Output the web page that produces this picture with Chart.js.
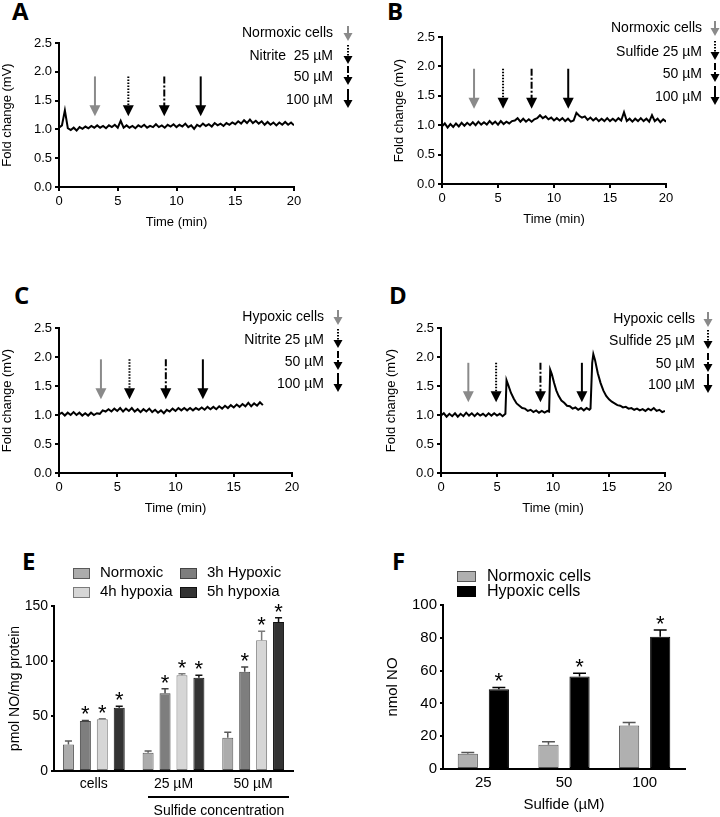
<!DOCTYPE html>
<html>
<head>
<meta charset="utf-8">
<script src="https://cdn.jsdelivr.net/npm/chart.js@4/dist/chart.umd.min.js"></script>
<style>
  body { margin: 0; background: #fff; width: 720px; height: 817px; position: relative; overflow: hidden; }
  canvas { position: absolute; }
  .letter { position: absolute; font-family: "Open Sans", sans-serif; font-weight: 700; font-size: 24px; line-height: 1; color: #000; }
</style>
</head>
<body>
<div class="letter" style="left:12px;top:-1px">A</div>
<div class="letter" style="left:387px;top:-1px">B</div>
<div class="letter" style="left:14px;top:283px">C</div>
<div class="letter" style="left:389px;top:283px">D</div>
<div class="letter" style="left:22px;top:549px">E</div>
<div class="letter" style="left:392px;top:549px">F</div>

<canvas id="chartA" width="360" height="250" style="left:0;top:0"></canvas>
<canvas id="chartB" width="360" height="250" style="left:360px;top:0"></canvas>
<canvas id="chartC" width="360" height="250" style="left:0;top:285px"></canvas>
<canvas id="chartD" width="360" height="250" style="left:360px;top:285px"></canvas>
<canvas id="chartE" width="360" height="277" style="left:0;top:540px"></canvas>
<canvas id="chartF" width="360" height="277" style="left:360px;top:540px"></canvas>

<script>
// ---------------- dati ----------------
// tempi di campionamento (min) per le tracce A, B, C
const sampleTimes = [0,0.25,0.5,0.75,1,1.25,1.5,1.75,2,2.25,2.5,2.75,3,3.25,3.5,3.75,4,4.25,4.5,4.75,5,5.25,5.5,5.75,6,6.25,6.5,6.75,7,7.25,7.5,7.75,8,8.25,8.5,8.75,9,9.25,9.5,9.75,10,10.25,10.5,10.75,11,11.25,11.5,11.75,12,12.25,12.5,12.75,13,13.25,13.5,13.75,14,14.25,14.5,14.75,15,15.25,15.5,15.75,16,16.25,16.5,16.75,17,17.25,17.5,17.75,18,18.25,18.5,18.75,19,19.25,19.5,19.75,20];

const foldA = [1.03,1.07,1.33,1.02,0.99,1.03,0.98,1.04,1.01,1.05,1.02,1.06,1.03,1.07,1.03,1.06,1.02,1.07,1.04,1.08,1.03,1.15,1.03,1.07,1.03,1.06,1.02,1.07,1.04,1.08,1.03,1.06,1.04,1.09,1.04,1.07,1.03,1.08,1.05,1.09,1.04,1.08,1.05,1.10,1.04,1.07,1.01,1.08,1.05,1.10,1.06,1.09,1.05,1.11,1.07,1.10,1.06,1.11,1.08,1.12,1.09,1.14,1.10,1.16,1.11,1.17,1.11,1.15,1.10,1.14,1.08,1.13,1.08,1.12,1.07,1.12,1.08,1.13,1.08,1.12,1.07];

const foldB = [0.98,1.03,0.96,1.02,0.97,1.03,0.98,1.04,0.99,1.04,1.00,1.05,1.00,1.06,1.01,1.05,1.01,1.07,1.02,1.06,1.01,1.07,1.02,1.06,1.03,1.07,1.08,1.12,1.06,1.11,1.06,1.10,1.06,1.10,1.12,1.17,1.12,1.15,1.10,1.13,1.08,1.12,1.08,1.12,1.07,1.11,1.06,1.08,1.21,1.16,1.13,1.15,1.09,1.13,1.08,1.12,1.07,1.11,1.07,1.12,1.07,1.11,1.07,1.12,1.08,1.22,1.07,1.11,1.06,1.11,1.07,1.12,1.07,1.11,1.06,1.17,1.07,1.11,1.05,1.10,1.06];

const foldC = [1.01,1.04,0.99,1.04,1.00,1.05,1.00,1.04,0.99,1.03,0.99,1.04,1.00,1.03,1.02,1.08,1.06,1.10,1.06,1.11,1.07,1.12,1.06,1.11,1.07,1.12,1.06,1.10,1.05,1.10,1.06,1.11,1.05,1.09,1.04,1.08,1.03,1.09,1.06,1.11,1.07,1.12,1.08,1.12,1.08,1.12,1.08,1.12,1.09,1.13,1.09,1.14,1.10,1.14,1.10,1.15,1.11,1.16,1.12,1.17,1.13,1.18,1.14,1.19,1.15,1.21,1.15,1.20,1.16,1.22,1.17];

const timeD = [0,0.25,0.5,0.75,1,1.25,1.5,1.75,2,2.25,2.5,2.75,3,3.25,3.5,3.75,4,4.25,4.5,4.75,5,5.25,5.5,5.75,5.85,6,6.25,6.5,6.75,7,7.25,7.5,7.75,8,8.25,8.5,8.75,9,9.25,9.5,9.65,9.75,9.9,10.1,10.3,10.5,10.75,11,11.25,11.5,11.75,12,12.25,12.5,12.75,13,13.25,13.35,13.5,13.6,13.75,14,14.25,14.5,14.75,15,15.25,15.5,15.75,16,16.25,16.5,16.75,17,17.25,17.5,17.75,18,18.25,18.5,18.75,19,19.25,19.5,19.75,20];
const foldD = [0.99,1.03,0.97,1.02,0.98,1.03,0.97,1.02,0.98,1.04,0.99,1.03,0.98,1.03,0.99,1.02,0.98,1.03,0.99,1.03,0.99,1.02,0.98,1.02,1.60,1.52,1.38,1.28,1.20,1.16,1.12,1.11,1.07,1.09,1.05,1.08,1.04,1.07,1.04,1.07,1.06,1.78,1.70,1.55,1.42,1.33,1.25,1.21,1.16,1.15,1.11,1.13,1.09,1.12,1.08,1.12,1.09,1.11,1.90,2.05,1.95,1.72,1.55,1.42,1.33,1.27,1.23,1.20,1.17,1.16,1.13,1.14,1.11,1.12,1.09,1.11,1.08,1.10,1.07,1.11,1.08,1.12,1.07,1.09,1.05,1.07];

// frecce di aggiunta (tempo in min) e stile
const arrowStyles = ["gray", "dotted", "dashdot", "solid"];
const arrowTimesA = [3.06, 5.9, 8.96, 12.06];
const arrowTimesB = [2.86, 5.45, 8.0, 11.27];
const arrowTimesC = [3.6, 6.05, 9.17, 12.35];
const arrowTimesD = [2.44, 4.92, 8.88, 12.58];

const legendA = ["Normoxic cells", "Nitrite  25 \u00b5M", "50 \u00b5M", "100 \u00b5M"];
const legendB = ["Normoxic cells", "Sulfide 25 \u00b5M", "50 \u00b5M", "100 \u00b5M"];
const legendC = ["Hypoxic cells", "Nitrite 25 \u00b5M", "50 \u00b5M", "100 \u00b5M"];
const legendD = ["Hypoxic cells", "Sulfide 25 \u00b5M", "50 \u00b5M", "100 \u00b5M"];

// pannello E
const eCategories = ["cells", "25 \u00b5M", "50 \u00b5M"];
const eLabels = ["Normoxic", "3h Hypoxic", "4h hypoxia", "5h hypoxia"];
const eNormoxic = [24, 16.7, 30.3];
const eNormoxicErr = [3.3, 1.5, 4.9];
const e3h = [45.5, 70.6, 90.3];
const e3hErr = [0.5, 4.2, 4.2];
const e4h = [47, 87, 118.8];
const e4hErr = [0.5, 1.5, 8.2];
const e5h = [57.6, 84.8, 135.5];
const e5hErr = [1.2, 2.2, 3.9];

// pannello F
const fCategories = ["25", "50", "100"];
const fLabels = ["Normoxic cells", "Hypoxic cells"];
const fNormoxic = [9.3, 14.8, 26.6];
const fNormoxicErr = [0.8, 1.8, 1.8];
const fHypoxic = [48.7, 56.4, 80.7];
const fHypoxicErr = [1.0, 2.0, 4.1];

// ---------------- utilità ----------------
const FONT = '"Liberation Sans", Arial, sans-serif';
Chart.defaults.font.family = FONT;
Chart.defaults.color = "#000";

const drawArrow = function (ctx, x, yTop, yTip, style, headW, headH, lw) {
    const color = style === "gray" ? "#8a8a8a" : "#000";
    ctx.save();
    ctx.strokeStyle = color;
    ctx.fillStyle = color;
    ctx.lineWidth = lw;
    if (style === "dotted") ctx.setLineDash([1.5, 1.5]);
    else if (style === "dashdot") ctx.setLineDash([7, 2, 2, 2]);
    else ctx.setLineDash([]);
    ctx.beginPath();
    ctx.moveTo(x, yTop);
    ctx.lineTo(x, yTip - headH + 1);
    ctx.stroke();
    ctx.setLineDash([]);
    ctx.beginPath();
    ctx.moveTo(x - headW / 2, yTip - headH);
    ctx.lineTo(x + headW / 2, yTip - headH);
    ctx.lineTo(x, yTip);
    ctx.closePath();
    ctx.fill();
    ctx.restore();
};

// ---------------- tracce A-D ----------------
const makeTrace = function (id, times, values, arrowTimes, arrowTop, arrowTip, legend, o) {
    const points = values.map((v, i) => ({ x: times[i], y: v }));
    const canvas = document.getElementById(id);

    const arrowPlugin = {
        id: "arrows" + id,
        afterDatasetsDraw(chart) {
            const ctx = chart.ctx;
            const xs = chart.scales.x, ys = chart.scales.y;
            arrowTimes.forEach((t, i) => {
                drawArrow(ctx, xs.getPixelForValue(t), ys.getPixelForValue(arrowTop),
                    ys.getPixelForValue(arrowTip), arrowStyles[i], 11, 11, 2);
            });
            // legenda a destra
            ctx.save();
            ctx.font = "14px " + FONT;
            ctx.fillStyle = "#000";
            ctx.textAlign = "right";
            ctx.textBaseline = "middle";
            legend.forEach((txt, i) => {
                const y = o.legRows[i];
                ctx.fillText(txt, o.legRight, y);
                const top = i === 0 ? y - 7 : y - 11;
                drawArrow(ctx, o.legArrow, top, y + 8, arrowStyles[i], 9, 8, 2);
            });
            ctx.restore();
        }
    };

    new Chart(canvas, {
        type: "line",
        data: {
            datasets: [{
                data: points,
                borderColor: "#000",
                borderWidth: 2,
                pointRadius: 0,
                tension: 0,
            }],
        },
        options: {
            responsive: false,
            animation: false,
            layout: { padding: { left: 0, top: o.top, right: o.right, bottom: o.bottom } },
            plugins: { legend: { display: false }, tooltip: { enabled: false } },
            scales: {
                x: {
                    type: "linear", min: 0, max: 20,
                    ticks: { stepSize: 5, font: { size: 13 }, padding: 3, maxRotation: 0 },
                    grid: { drawOnChartArea: false, color: "#000", tickLength: 4, lineWidth: 2 },
                    border: { color: "#000", width: 2 },
                    title: { display: true, text: "Time (min)", font: { size: 13 }, padding: 0 },
                    afterFit: s => { s.height = o.xHeight; },
                },
                y: {
                    min: 0, max: 2.5,
                    ticks: { stepSize: 0.5, font: { size: 13 }, padding: 3, callback: v => Number(v).toFixed(1) },
                    grid: { drawOnChartArea: false, color: "#000", tickLength: 4, lineWidth: 2 },
                    border: { color: "#000", width: 2 },
                    title: { display: true, text: "Fold change (mV)", font: { size: 13 }, padding: { top: o.yTitlePad, bottom: 0 } },
                    afterFit: s => { s.width = o.yWidth; },
                },
            },
        },
        plugins: [arrowPlugin],
    });
};

makeTrace("chartA", sampleTimes, foldA, arrowTimesA, 1.92, 1.23, legendA,
    { top: 43, right: 66, bottom: 20, xHeight: 43, yWidth: 59, yTitlePad: 0,
      legRows: [33, 56, 77, 100], legRight: 333, legArrow: 348 });
makeTrace("chartB", sampleTimes, foldB, arrowTimesB, 1.96, 1.28, legendB,
    { top: 37, right: 54, bottom: 23, xHeight: 43, yWidth: 82, yTitlePad: 32,
      legRows: [28, 52, 74, 97], legRight: 342, legArrow: 355 });
makeTrace("chartC", sampleTimes.slice(0, foldC.length), foldC, arrowTimesC, 1.96, 1.27, legendC,
    { top: 43, right: 68, bottom: 19, xHeight: 43, yWidth: 59, yTitlePad: 0,
      legRows: [32, 55, 77, 99], legRight: 324, legArrow: 338 });
makeTrace("chartD", timeD, foldD, arrowTimesD, 1.9, 1.22, legendD,
    { top: 43, right: 55, bottom: 19, xHeight: 43, yWidth: 81, yTitlePad: 24,
      legRows: [34, 56, 79, 100], legRight: 335, legArrow: 348 });

// ---------------- barre E-F ----------------
const errorPlugin = {
    id: "errorStars",
    afterDatasetsDraw(chart) {
        const ctx = chart.ctx;
        const ys = chart.scales.y;
        chart.data.datasets.forEach((ds, di) => {
            const meta = chart.getDatasetMeta(di);
            meta.data.forEach((bar, i) => {
                const topPx = ys.getPixelForValue(ds.data[i] + ds.err[i]);
                const half = bar.width * 0.32;
                ctx.save();
                ctx.strokeStyle = ds.borderColor;
                ctx.lineWidth = 1.5;
                ctx.beginPath();
                ctx.moveTo(bar.x, bar.y);
                ctx.lineTo(bar.x, topPx);
                ctx.moveTo(bar.x - half, topPx);
                ctx.lineTo(bar.x + half, topPx);
                ctx.stroke();
                if (ds.star) {
                    ctx.fillStyle = "#000";
                    ctx.font = "22px " + FONT;
                    ctx.textAlign = "center";
                    ctx.textBaseline = "alphabetic";
                    ctx.fillText("*", bar.x, topPx + 1);
                }
                ctx.restore();
            });
        });
    }
};

const barBase = { borderWidth: 1, borderSkipped: false };

// E
const eColors = ["#acacac", "#7e7e7e", "#d6d6d6", "#333333"];
const eBorders = ["#5a5a5a", "#444444", "#7a7a7a", "#111111"];
const eValues = [eNormoxic, e3h, e4h, e5h];
const eErrors = [eNormoxicErr, e3hErr, e4hErr, e5hErr];

const ePlugin = {
    id: "extraE",
    afterDraw(chart) {
        const ctx = chart.ctx;
        ctx.save();
        ctx.font = "15px " + FONT;
        ctx.textBaseline = "middle";
        const boxX = [73, 180], textX = [100, 207], rowY = [33, 52];
        eLabels.forEach((lab, i) => {
            const col = i % 2, row = Math.floor(i / 2);
            ctx.fillStyle = eColors[i];
            ctx.strokeStyle = eBorders[i];
            ctx.lineWidth = 1;
            ctx.fillRect(boxX[col], rowY[row] - 5, 17, 11);
            ctx.strokeRect(boxX[col] + 0.5, rowY[row] - 4.5, 16, 10);
            ctx.fillStyle = "#000";
            ctx.fillText(lab, textX[col], rowY[row]);
        });
        ctx.strokeStyle = "#000";
        ctx.lineWidth = 2;
        ctx.beginPath();
        ctx.moveTo(148, 257);
        ctx.lineTo(289, 257);
        ctx.stroke();
        ctx.font = "14px " + FONT;
        ctx.textAlign = "center";
        ctx.fillText("Sulfide concentration", 219, 271);
        ctx.restore();
    }
};

new Chart(document.getElementById("chartE"), {
    type: "bar",
    data: {
        labels: eCategories,
        datasets: eValues.map((vals, i) => Object.assign({
            label: eLabels[i], data: vals, err: eErrors[i], star: i > 0,
            backgroundColor: eColors[i], borderColor: eBorders[i],
            categoryPercentage: 0.85, barPercentage: 0.65,
        }, barBase)),
    },
    options: {
        responsive: false,
        animation: false,
        layout: { padding: { left: 0, top: 66, right: 67, bottom: 0 } },
        plugins: { legend: { display: false }, tooltip: { enabled: false } },
        scales: {
            x: {
                ticks: { font: { size: 14 }, padding: 5, maxRotation: 0 },
                grid: { display: true, drawOnChartArea: false, drawTicks: false },
                border: { color: "#000", width: 2 },
                afterFit: s => { s.height = 46; },
            },
            y: {
                min: 0, max: 150,
                ticks: { stepSize: 50, font: { size: 14 }, padding: 3 },
                grid: { drawOnChartArea: false, color: "#000", tickLength: 3, lineWidth: 2 },
                border: { color: "#000", width: 2 },
                title: { display: true, text: "pmol NO/mg protein", font: { size: 14 }, padding: { top: 7, bottom: 0 } },
                afterFit: s => { s.width = 54; },
            },
        },
    },
    plugins: [errorPlugin, ePlugin],
});

// F
const fColors = ["#b0b0b0", "#000000"];
const fBorders = ["#555555", "#000000"];

const fPlugin = {
    id: "extraF",
    afterDraw(chart) {
        const ctx = chart.ctx;
        ctx.save();
        ctx.font = "16px " + FONT;
        ctx.textBaseline = "middle";
        const rowY = [37, 52];
        fLabels.forEach((lab, i) => {
            ctx.fillStyle = fColors[i];
            ctx.fillRect(97, rowY[i] - 6, 19, 11);
            ctx.strokeStyle = fBorders[i];
            ctx.lineWidth = 1;
            ctx.strokeRect(97.5, rowY[i] - 5.5, 18, 10);
            ctx.fillStyle = "#000";
            ctx.fillText(lab, 127, rowY[i]);
        });
        ctx.restore();
    }
};

new Chart(document.getElementById("chartF"), {
    type: "bar",
    data: {
        labels: fCategories,
        datasets: [
            Object.assign({ label: fLabels[0], data: fNormoxic, err: fNormoxicErr, star: false,
                backgroundColor: fColors[0], borderColor: fBorders[0], categoryPercentage: 0.77, barPercentage: 0.65 }, barBase),
            Object.assign({ label: fLabels[1], data: fHypoxic, err: fHypoxicErr, star: true,
                backgroundColor: fColors[1], borderColor: fBorders[1], categoryPercentage: 0.77, barPercentage: 0.65 }, barBase),
        ],
    },
    options: {
        responsive: false,
        animation: false,
        layout: { padding: { left: 0, top: 65, right: 35, bottom: 3 } },
        plugins: { legend: { display: false }, tooltip: { enabled: false } },
        scales: {
            x: {
                ticks: { font: { size: 15 }, padding: 5, maxRotation: 0 },
                grid: { display: true, drawOnChartArea: false, drawTicks: false },
                border: { color: "#000", width: 2 },
                title: { display: true, text: "Sulfide (\u00b5M)", font: { size: 15 }, padding: 0 },
                afterFit: s => { s.height = 45; },
            },
            y: {
                min: 0, max: 100,
                ticks: { stepSize: 20, font: { size: 15 }, padding: 3 },
                grid: { drawOnChartArea: false, color: "#000", tickLength: 3, lineWidth: 2 },
                border: { color: "#000", width: 2 },
                title: { display: true, text: "nmol NO", font: { size: 15 }, padding: { top: 24, bottom: 0 } },
                afterFit: s => { s.width = 83; },
            },
        },
    },
    plugins: [errorPlugin, fPlugin],
});
</script>
</body>
</html>
